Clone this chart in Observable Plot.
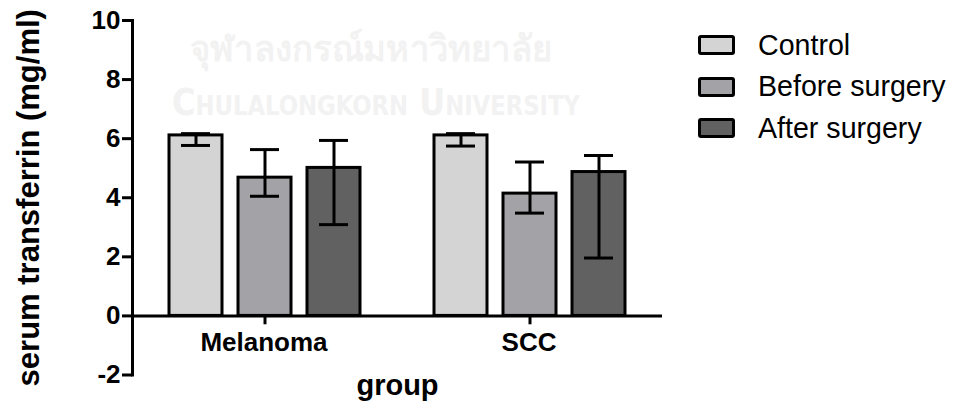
<!DOCTYPE html>
<html>
<head>
<meta charset="utf-8">
<script src="https://cdn.jsdelivr.net/npm/d3@7"></script>
<script src="https://cdn.jsdelivr.net/npm/@observablehq/plot@0.6"></script>
<style>
  html, body { margin: 0; padding: 0; background: #fff; }
  #wrap { position: relative; width: 961px; height: 403px; font-family: "Liberation Sans", Arial, sans-serif; }
  #chart { position: absolute; left: 0; top: 0; }
  .wm { position: absolute; color: #f2f2f2; font-weight: bold; white-space: nowrap; transform-origin: left top; }
  #wm1 { left: 190px; top: 20px; font-size: 36px; font-family: "Noto Sans", "DejaVu Sans", sans-serif; }
  #wm2 { left: 172px; top: 80px; font-size: 38px; font-variant: small-caps; font-family: "DejaVu Sans", sans-serif; }
  #legend { position: absolute; left: 698px; top: 24.25px; }
  .row { display: flex; align-items: center; height: 41.5px; }
  .sw { width: 37px; height: 20px; box-sizing: border-box; border: 3px solid #000; border-radius: 3px; margin-right: 23px; }
  .lab { font-size: 28.6px; color: #000; line-height: 1; }
</style>
</head>
<body>
<div id="wrap">
  <div class="wm" id="wm1">จุฬาลงกรณ์มหาวิทยาลัย</div>
  <div class="wm" id="wm2">Chulalongkorn University</div>
  <div id="chart"></div>
  <div id="legend"></div>
</div>
<script>
const groups = ["Melanoma", "SCC"];
const series = ["Control", "Before surgery", "After surgery"];
const meanMelanoma = [6.11, 4.68, 5.01];
const meanSCC = [6.11, 4.14, 4.87];
const hiMelanoma = [6.17, 5.63, 5.94];
const hiSCC = [6.17, 5.21, 5.43];
const loMelanoma = [5.77, 4.05, 3.09];
const loSCC = [5.75, 3.48, 1.96];
const yTicks = [-2, 0, 2, 4, 6, 8, 10];
const colors = ["#d4d4d4", "#a3a3a7", "#616161"];

const means = {Melanoma: meanMelanoma, SCC: meanSCC};
const his = {Melanoma: hiMelanoma, SCC: hiSCC};
const los = {Melanoma: loMelanoma, SCC: loSCC};
const table = [];
groups.forEach(g => series.forEach((s, i) => table.push({group: g, series: s, mean: means[g][i], hi: his[g][i], lo: los[g][i]})));

const chart = Plot.plot({
  width: 961,
  height: 403,
  marginTop: 20,
  marginBottom: 28.5,
  marginLeft: 131,
  marginRight: 299,
  style: {fontFamily: "'Liberation Sans', Arial, sans-serif", background: "transparent", color: "#000", overflow: "visible"},
  fx: {domain: groups, padding: 0},
  x: {domain: series, paddingInner: 0.236, paddingOuter: 0.531, axis: null},
  y: {domain: [-2, 10]},
  color: {domain: series, range: colors},
  marks: [
    Plot.barY(table, {fx: "group", x: "series", y: "mean", fill: "series", stroke: "#000", strokeWidth: 3}),
    Plot.ruleX(table, {fx: "group", x: "series", y1: "lo", y2: "hi", stroke: "#000", strokeWidth: 3}),
    Plot.tickY(table, {fx: "group", x: "series", y: "hi", insetLeft: 12, insetRight: 12, stroke: "#000", strokeWidth: 3}),
    Plot.tickY(table, {fx: "group", x: "series", y: "lo", insetLeft: 12, insetRight: 12, stroke: "#000", strokeWidth: 3}),
    Plot.ruleY([0], {stroke: "#000", strokeWidth: 3}),
    Plot.ruleX(groups, {fx: d => d, x: null, y1: 0, y2: -0.3, stroke: "#000", strokeWidth: 3}),
    Plot.text(groups, {fx: d => d, y: 0, text: d => d, lineAnchor: "top", dy: 17, dx: -1, fontSize: 26, fontWeight: "bold", fill: "#000"}),
    Plot.frame({anchor: "left", facetAnchor: "left", stroke: "#000", strokeWidth: 3}),
    Plot.axisY({ticks: yTicks, tickFormat: d => `${d}`, tickSize: 10, tickPadding: 2, fontSize: 26, fontWeight: "bold", stroke: "#000", strokeWidth: 3, label: null}),
    Plot.axisY({ticks: [], tickSize: 0, label: "serum transferrin (mg/ml)", labelArrow: "none", labelAnchor: "center", labelOffset: 116, fontSize: 31, fontWeight: "bold"}),
    Plot.axisFx({anchor: "bottom", ticks: [], tickSize: 0, label: "group", labelArrow: "none", labelAnchor: "center", labelOffset: 20, fontSize: 29, fontWeight: "bold"})
  ]
});
document.getElementById("chart").appendChild(chart);

const legend = d3.select("#legend");
series.forEach((s, i) => {
  const row = legend.append("div").attr("class", "row");
  row.append("div").attr("class", "sw").style("background", colors[i]);
  row.append("div").attr("class", "lab").text(s);
});

// fit watermark widths
[["wm1", 362], ["wm2", 408]].forEach(([id, w]) => {
  const el = document.getElementById(id);
  const cw = el.getBoundingClientRect().width;
  if (cw > 0) el.style.transform = `scaleX(${w / cw})`;
});
</script>
</body>
</html>
